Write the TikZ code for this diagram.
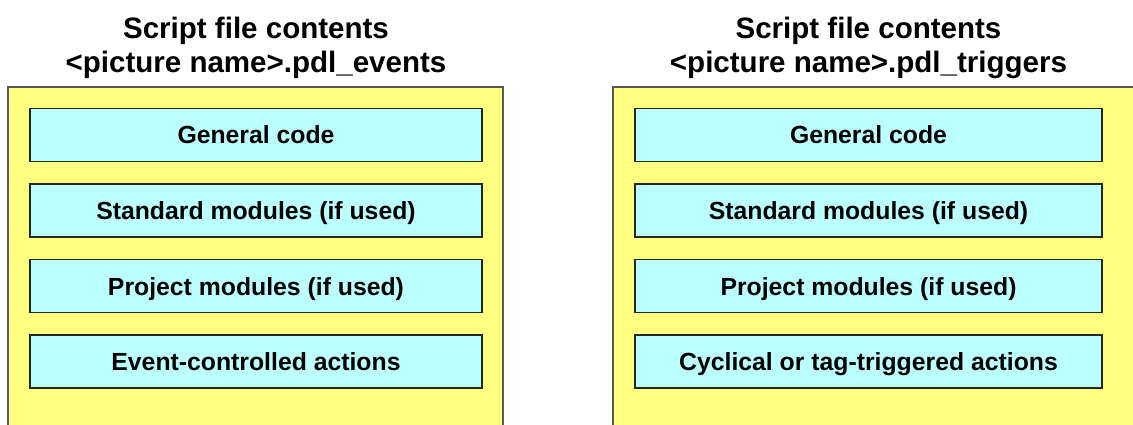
\documentclass[tikz,border=0pt]{standalone}
\usepackage{fontspec}
\setmainfont{Liberation Sans}
\usetikzlibrary{positioning}
\definecolor{panelyellow}{HTML}{FFFF80}
\definecolor{partcyan}{HTML}{BBFFFF}

\begin{document}
\begin{tikzpicture}[
  panel/.style={draw=black!65,line width=0.9pt,fill=panelyellow,minimum height=7.1cm,inner sep=0pt},
  part/.style={draw=black!85,line width=0.9pt,fill=partcyan,minimum height=1.06cm,
    inner sep=0pt,text height=0.355cm,text depth=0pt,font=\fontsize{14.1}{16}\selectfont\bfseries},
  ttl/.style={align=center,inner sep=0pt,font=\fontsize{16.8}{19.2}\selectfont\bfseries}]
  \useasboundingbox (0,0) rectangle (22.66,8.5);
  % events file
  \node[panel,minimum width=9.9cm] (Lpanel) at (5.11,3.21) {};
  \node[part,minimum width=9.04cm] (Lgen) at (5.12,5.80) {General code};
  \node[part,minimum width=9.04cm,below=0.42cm of Lgen] (Lstd) {Standard modules (if used)};
  \node[part,minimum width=9.04cm,below=0.42cm of Lstd] (Lprj) {Project modules (if used)};
  \node[part,minimum width=9.04cm,below=0.42cm of Lprj] (Lact) {Event-controlled actions};
  \node[ttl,above=0.58cm of Lgen] (Ltitle) {Script file contents\\<picture name>.pdl\_events};
  % triggers file
  \node[panel,minimum width=11cm] (Rpanel) at (17.76,3.21) {};
  \node[part,minimum width=9.34cm] (Rgen) at (17.37,5.80) {General code};
  \node[part,minimum width=9.34cm,below=0.42cm of Rgen] (Rstd) {Standard modules (if used)};
  \node[part,minimum width=9.34cm,below=0.42cm of Rstd] (Rprj) {Project modules (if used)};
  \node[part,minimum width=9.34cm,below=0.42cm of Rprj] (Ract) {Cyclical or tag-triggered actions};
  \node[ttl,above=0.58cm of Rgen] (Rtitle) {Script file contents\\<picture name>.pdl\_triggers};
\end{tikzpicture}
\end{document}
